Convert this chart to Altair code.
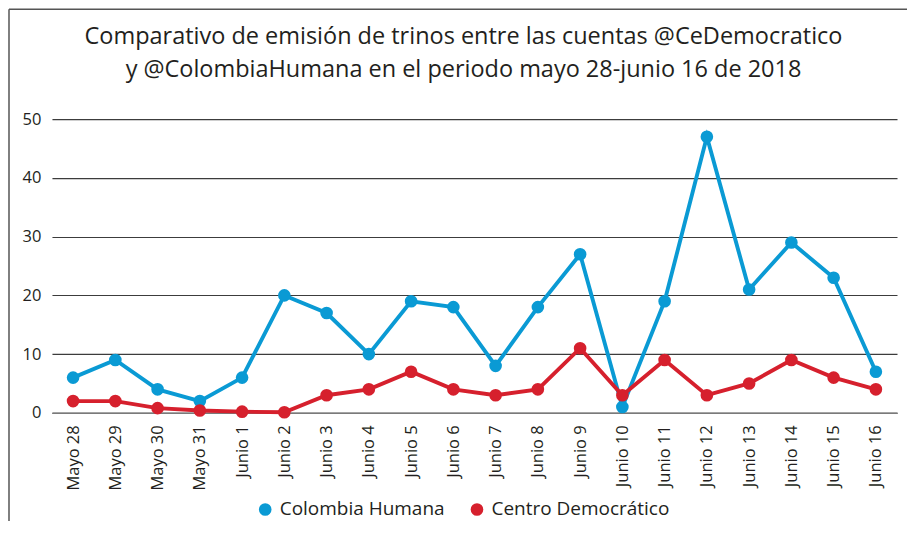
import altair as alt
import pandas as pd

fechas = ["Mayo 28", "Mayo 29", "Mayo 30", "Mayo 31",
          "Junio 1", "Junio 2", "Junio 3", "Junio 4", "Junio 5", "Junio 6",
          "Junio 7", "Junio 8", "Junio 9", "Junio 10", "Junio 11", "Junio 12",
          "Junio 13", "Junio 14", "Junio 15", "Junio 16"]
colombia_humana = [6, 9, 4, 2, 6, 20, 17, 10, 19, 18, 8, 18, 27, 1, 19, 47, 21, 29, 23, 7]
centro_democratico = [2, 2, 0.8, 0.4, 0.2, 0.1, 3, 4, 7, 4, 3, 4, 11, 3, 9, 3, 5, 9, 6, 4]
series = ["Colombia Humana", "Centro Democrático"]
colores = ["#0a9ad4", "#d6202d"]
y_ticks = [0, 10, 20, 30, 40, 50]

rows = []
for f, v in zip(fechas, colombia_humana):
    rows.append({"fecha": f, "serie": series[0], "valor": v})
for f, v in zip(fechas, centro_democratico):
    rows.append({"fecha": f, "serie": series[1], "valor": v})
df = pd.DataFrame(rows)

W, H = 846, 294
TXT = "#231f20"
FONT = "Open Sans"

x_enc = alt.X("fecha:N", sort=fechas,
              scale=alt.Scale(type="point", padding=0.5),
              axis=alt.Axis(title=None, labelAngle=-90, ticks=False, labelPadding=12,
                            labelFontSize=16.5, labelFont=FONT, labelColor=TXT,
                            domain=True, domainColor="#7a7a7a", domainWidth=1.5,
                            grid=False))
y_enc = alt.Y("valor:Q",
              scale=alt.Scale(domain=[0, 50], nice=False),
              axis=alt.Axis(title=None, values=y_ticks, ticks=False, labelPadding=11,
                            labelFontSize=16.5, labelFont=FONT, labelColor=TXT,
                            domain=False, grid=True, gridColor="#3c3c3c", gridWidth=1.1))
color_enc = alt.Color("serie:N",
                      scale=alt.Scale(domain=series, range=colores),
                      legend=alt.Legend(title=None, orient="none", direction="horizontal",
                                        legendX=204, legendY=381, symbolType="circle",
                                        symbolSize=160, symbolStrokeWidth=0,
                                        labelFontSize=19, labelFont=FONT, labelColor=TXT,
                                        labelLimit=400,
                                        labelOffset=5, columnPadding=22, padding=0))

base = alt.Chart(df).encode(x=x_enc, y=y_enc, color=color_enc,
                            detail="serie:N")

lines = base.mark_line(strokeWidth=3.9)
points = base.mark_point(filled=True, size=160, opacity=1)

frame = pd.DataFrame({"k": [0]})
left_border = alt.Chart(frame).mark_rule(color="#555555", strokeWidth=1.5).encode(
    x=alt.value(-43), y=alt.value(-110), y2=alt.value(H + 200))
top_border = alt.Chart(frame).mark_rule(color="#555555", strokeWidth=1.5).encode(
    x=alt.value(-43), x2=alt.value(W + 100), y=alt.value(-110))

chart = alt.layer(left_border, top_border, lines, points).properties(
    width=W, height=H,
    autosize=alt.AutoSizeParams(type="none"),
    padding={"left": 44, "top": 111, "right": 10, "bottom": 108},
    title=alt.TitleParams(
        text=["Comparativo de emisión de trinos entre las cuentas @CeDemocratico",
              "y @ColombiaHumana en el periodo mayo 28-junio 16 de 2018"],
        fontSize=23.5, font=FONT, fontWeight="normal", color=TXT,
        lineHeight=33, anchor="middle", dx=-11, offset=-73),
).configure_view(stroke=None)

chart.save("out.html", embed_options={"renderer": "svg", "actions": False})
